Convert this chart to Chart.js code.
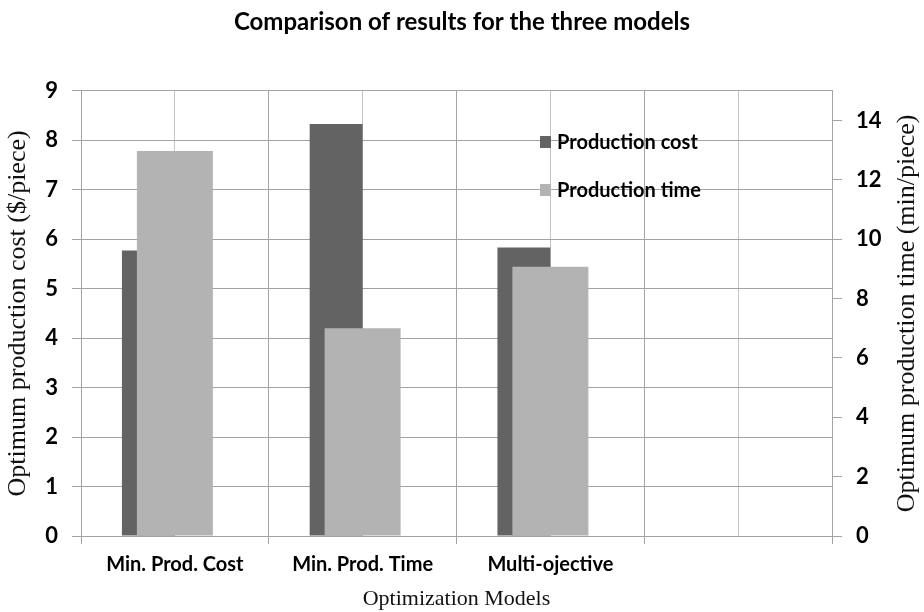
<!DOCTYPE html>
<html><head><meta charset="utf-8">
<script src="https://cdn.jsdelivr.net/npm/chart.js@4.4.1/dist/chart.umd.min.js"></script>
<style>html,body{margin:0;padding:0;background:#fff}#wrap{width:924px;height:612px;position:relative}</style>
</head><body><div id="wrap"><canvas id="c"></canvas></div>
<script>
const categories = ['Min. Prod. Cost', 'Min. Prod. Time', 'Multi-ojective', ''];
const seriesNames = ['Production cost', 'Production time'];
const productionCost = [5.77, 8.33, 5.83, null];   // $/piece (left axis)
const productionTime = [12.97, 7.0, 9.07, null];   // min/piece (right axis)
const spacer = [null, null, null, null];
const costTicks = [0, 1, 2, 3, 4, 5, 6, 7, 8, 9];
const timeTicks = [0, 2, 4, 6, 8, 10, 12, 14];
const chartTitle = 'Comparison of results for the three models';
const xTitle = 'Optimization Models';
const yTitle = 'Optimum production cost ($/piece)';
const y1Title = 'Optimum production time (min/piece)';

const DARK = '#636363', LIGHT = '#b3b3b3', GRID = '#a3a3a3';

// draw cost bars first, then time bars on top (without changing group order)
const drawOrderPlugin = {
  id: 'drawOrder',
  beforeDatasetsDraw(chart) {
    [0, 1].forEach(i => {
      const meta = chart.getDatasetMeta(i);
      if (meta.visible) meta.controller.draw();
    });
    return false;
  }
};

const overlayPlugin = {
  id: 'overlay',
  afterDraw(chart) {
    const ctx = chart.ctx, a = chart.chartArea;
    ctx.save();
    const items = [
      { text: seriesNames[0], color: chart.data.datasets[0].backgroundColor },
      { text: seriesNames[1], color: chart.data.datasets[1].backgroundColor }
    ];
    ctx.font = 'bold 20px Lato';
    ctx.textBaseline = 'middle';
    items.forEach((it, i) => {
      const y = 142 + i * 48;
      ctx.fillStyle = it.color;
      ctx.fillRect(540, y - 6, 11, 12);
      ctx.fillStyle = '#000';
      ctx.fillText(it.text, 557, y + 1);
    });
    // right axis title, reading bottom-to-top
    ctx.translate(907, (a.top + a.bottom) / 2);
    ctx.rotate(-Math.PI / 2);
    ctx.font = '26px "Liberation Serif"';
    ctx.textAlign = 'center';
    ctx.textBaseline = 'middle';
    ctx.fillStyle = '#111';
    ctx.fillText(y1Title, 0, 0);
    ctx.restore();
  }
};

new Chart(document.getElementById('c'), {
  type: 'bar',
  data: {
    labels: categories,
    datasets: [
      { label: seriesNames[0], data: productionCost, backgroundColor: DARK, xAxisID: 'x', yAxisID: 'y',
        categoryPercentage: 0.423, barPercentage: 2.0 },
      { label: seriesNames[1], data: productionTime, backgroundColor: LIGHT, xAxisID: 'x', yAxisID: 'y1',
        categoryPercentage: 0.423, barPercentage: 2.87 },
      { label: '', data: spacer, backgroundColor: 'rgba(0,0,0,0)', xAxisID: 'x', yAxisID: 'y',
        categoryPercentage: 0.423, barPercentage: 1.0 }
    ]
  },
  options: {
    responsive: true,
    maintainAspectRatio: false,
    animation: false,
    layout: { padding: 0 },
    plugins: {
      legend: { display: false },
      tooltip: { enabled: false },
      title: {
        display: true, text: chartTitle, color: '#000',
        font: { family: 'Lato', size: 24, weight: 'bold' },
        padding: { top: 8, bottom: 54 }
      }
    },
    scales: {
      x: {
        type: 'category', position: 'bottom', offset: true,
        grid: { offset: true, color: GRID, tickLength: 8 },
        border: { display: true, color: GRID },
        ticks: { color: '#000', font: { family: 'Lato', size: 20, weight: 'bold' }, padding: 9, maxRotation: 0, autoSkip: false },
        title: { display: true, text: xTitle, color: '#111', font: { family: 'Liberation Serif', size: 22 }, padding: { top: 1, bottom: 0 } },
        afterFit(s) { s.height = 76; }
      },
      x2: {
        type: 'category', position: 'top', offset: true, display: true,
        grid: { offset: false, color: '#c4c4c4', drawTicks: false },
        border: { display: false },
        ticks: { display: false },
        afterFit(s) { s.height = 0; }
      },
      y: {
        type: 'linear', position: 'left', min: 0, max: 9,
        afterBuildTicks(s) { s.ticks = costTicks.map(v => ({ value: v })); },
        grid: { color: GRID, tickLength: 9 },
        border: { display: true, color: GRID },
        ticks: { color: '#000', font: { family: 'Lato', size: 22, weight: 'bold' }, padding: 14 },
        title: { display: true, text: yTitle, color: '#111', font: { family: 'Liberation Serif', size: 26 }, padding: { top: 3, bottom: 0 } },
        afterFit(s) { s.width = 81; }
      },
      y1: {
        type: 'linear', position: 'right', min: 0, max: 15,
        afterBuildTicks(s) { s.ticks = timeTicks.map(v => ({ value: v })); },
        grid: { drawOnChartArea: false, color: GRID, tickLength: 10 },
        border: { display: true, color: GRID },
        ticks: { color: '#000', font: { family: 'Lato', size: 22, weight: 'bold' }, padding: 14 },
        afterFit(s) { s.width = 92; }
      }
    }
  },
  plugins: [drawOrderPlugin, overlayPlugin]
});
</script></body></html>
